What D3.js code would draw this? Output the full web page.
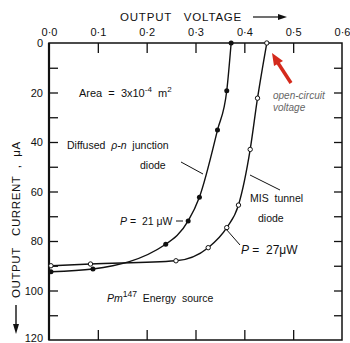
<!DOCTYPE html>
<html>
<head>
<meta charset="utf-8">
<script src="https://cdn.jsdelivr.net/npm/d3@7"></script>
<style>
  body { margin: 0; background: #fff; }
  svg { display: block; font-family: "Liberation Sans", Arial, sans-serif; }
  svg text { white-space: pre; }
</style>
</head>
<body>
<figure id="chart" style="margin:0"></figure>
<script>
// values
const pnVoltage = [0.004, 0.09, 0.239, 0.285, 0.308, 0.345, 0.364, 0.373];
const pnCurrent = [92.4, 91.3, 81.3, 71.9, 62.3, 35.2, 19.3, 0];
const misVoltage = [0.004, 0.085, 0.26, 0.326, 0.364, 0.388, 0.412, 0.427, 0.446];
const misCurrent = [90, 89.3, 88, 82.7, 74.6, 65.5, 43, 22.3, 0];
const voltageTicks = [0, 0.1, 0.2, 0.3, 0.4, 0.5, 0.6];
const currentTicks = [0, 20, 40, 60, 80, 100, 120];
const currentMinor = d3.range(0, 121, 10);

const width = 350, height = 343;
const plotLeft = 49, plotRight = 342, plotTop = 43, plotBottom = 340;

const svg = d3.select("#chart").append("svg")
  .attr("width", width)
  .attr("height", height);

const x = d3.scaleLinear().domain([0, 0.6]).range([plotLeft, plotRight]);
const y = d3.scaleLinear().domain([0, 120]).range([plotTop, plotBottom]);

const fmtV = d => d3.format(".1f")(d).replace(".", "·");

// tick labels
svg.append("g")
  .attr("transform", "translate(0," + plotTop + ")")
  .call(d3.axisTop(x).tickValues(voltageTicks).tickSize(0).tickPadding(7).tickFormat(fmtV))
  .call(g => g.select(".domain").remove())
  .selectAll("text").style("font-size", "11px").attr("fill", "#111");

svg.append("g")
  .attr("transform", "translate(" + plotLeft + ",0)")
  .call(d3.axisLeft(y).tickValues(currentTicks).tickSize(0).tickPadding(6))
  .call(g => g.select(".domain").remove())
  .selectAll("text").style("font-size", "11px").attr("fill", "#111")
  .attr("dy", d => d === 120 ? "0.1em" : "0.32em");

// inward ticks
const tickAxis = (g, axis) => g.call(axis.tickFormat(""))
  .call(g => g.select(".domain").remove())
  .selectAll("line").attr("stroke", "#111").attr("stroke-width", 1.3);

svg.append("g").attr("transform", "translate(0," + plotTop + ")")
  .call(g => tickAxis(g, d3.axisTop(x).tickValues(voltageTicks.slice(1, -1)).tickSize(-10)));
svg.append("g").attr("transform", "translate(0," + plotBottom + ")")
  .call(g => tickAxis(g, d3.axisBottom(x).tickValues(voltageTicks.slice(1, -1)).tickSize(-10)));
svg.append("g").attr("transform", "translate(" + plotLeft + ",0)")
  .call(g => tickAxis(g, d3.axisLeft(y).tickValues(currentMinor.slice(1, -1)).tickSize(-9)));
svg.append("g").attr("transform", "translate(" + plotRight + ",0)")
  .call(g => tickAxis(g, d3.axisRight(y).tickValues(currentMinor.slice(1, -1)).tickSize(-8)));

// frame
svg.append("rect")
  .attr("x", plotLeft).attr("y", plotTop)
  .attr("width", plotRight - plotLeft).attr("height", plotBottom - plotTop)
  .attr("fill", "none").attr("stroke", "#111").attr("stroke-width", 1.5);
svg.append("line")
  .attr("x1", plotLeft).attr("x2", plotLeft).attr("y1", plotTop).attr("y2", plotBottom)
  .attr("stroke", "#111").attr("stroke-width", 2.2);

// curves
const line = d3.line().x(d => x(d[0])).y(d => y(d[1])).curve(d3.curveMonotoneX);
const pn = pnVoltage.map((v, i) => [v, pnCurrent[i]]);
const mis = misVoltage.map((v, i) => [v, misCurrent[i]]);

svg.append("path").datum(pn).attr("d", line)
  .attr("fill", "none").attr("stroke", "#111").attr("stroke-width", 1.4);
svg.append("path").datum(mis).attr("d", line)
  .attr("fill", "none").attr("stroke", "#111").attr("stroke-width", 1.4);

svg.selectAll(".pn").data(pn).enter().append("circle")
  .attr("cx", d => x(d[0])).attr("cy", d => y(d[1])).attr("r", 2.5)
  .attr("fill", "#111");
svg.selectAll(".mis").data(mis).enter().append("circle")
  .attr("cx", d => x(d[0])).attr("cy", d => y(d[1])).attr("r", 2.2)
  .attr("fill", "#fff").attr("stroke", "#111").attr("stroke-width", 1);

// titles
svg.append("text").attr("x", 120).attr("y", 21)
  .style("font-size", "11.5px").style("letter-spacing", "0.8px").attr("fill", "#111")
  .text("OUTPUT   VOLTAGE");
svg.append("line").attr("x1", 253).attr("x2", 280).attr("y1", 17).attr("y2", 17)
  .attr("stroke", "#111").attr("stroke-width", 1.2);
svg.append("path").attr("d", "M287,17 L278,14 L278,20 Z").attr("fill", "#111");

svg.append("text")
  .attr("transform", "translate(20,298) rotate(-90)")
  .style("font-size", "11.5px").style("letter-spacing", "0.6px").attr("fill", "#111")
  .text("OUTPUT   CURRENT  ,  μA");
svg.append("line").attr("x1", 16).attr("x2", 16).attr("y1", 305).attr("y2", 326)
  .attr("stroke", "#111").attr("stroke-width", 1.4);
svg.append("path").attr("d", "M16,334 L13,324 L19,324 Z").attr("fill", "#111");

// annotations
const note = (tx, ty, html, size) => svg.append("text")
  .attr("x", tx).attr("y", ty)
  .style("font-size", (size || 10.5) + "px").attr("fill", "#111").html(html);

note(79, 97, 'Area  =  3x10<tspan dy="-5" font-size="8">-4</tspan><tspan dy="5">  m</tspan><tspan dy="-5" font-size="8">2</tspan>', 11);
note(67, 149, 'Diffused  <tspan font-style="italic">ρ-n</tspan>  junction');
note(140, 169, 'diode');
note(250, 202, 'MIS  tunnel');
note(258, 222, 'diode');
note(120, 225, '<tspan font-style="italic">P</tspan> =  21 μW');
note(241, 254, '<tspan font-style="italic">P</tspan> =  27μW', 12);
note(107, 302, '<tspan font-style="italic">Pm</tspan><tspan dy="-5" font-size="8.5">147</tspan><tspan dy="5">  Energy  source</tspan>');

const leader = (x1, y1, x2, y2) => svg.append("line")
  .attr("x1", x1).attr("y1", y1).attr("x2", x2).attr("y2", y2)
  .attr("stroke", "#111").attr("stroke-width", 1);
leader(181, 162, 203, 174);
leader(250, 175, 280, 190);
leader(226, 229, 240, 245);
leader(176, 221, 183, 221);

// open-circuit voltage callout
svg.append("line").attr("x1", 291).attr("y1", 83).attr("x2", 278).attr("y2", 63)
  .attr("stroke", "#d42a1c").attr("stroke-width", 3.5);
svg.append("path").attr("d", "M272,53 L283,61 L274,66 Z").attr("fill", "#d42a1c");
svg.append("text").attr("x", 273).attr("y", 99).style("font-size", "10px")
  .style("font-style", "italic").attr("fill", "#666").text("open-circuit");
svg.append("text").attr("x", 273).attr("y", 111).style("font-size", "10px")
  .style("font-style", "italic").attr("fill", "#666").text("voltage");
</script>
</body>
</html>
